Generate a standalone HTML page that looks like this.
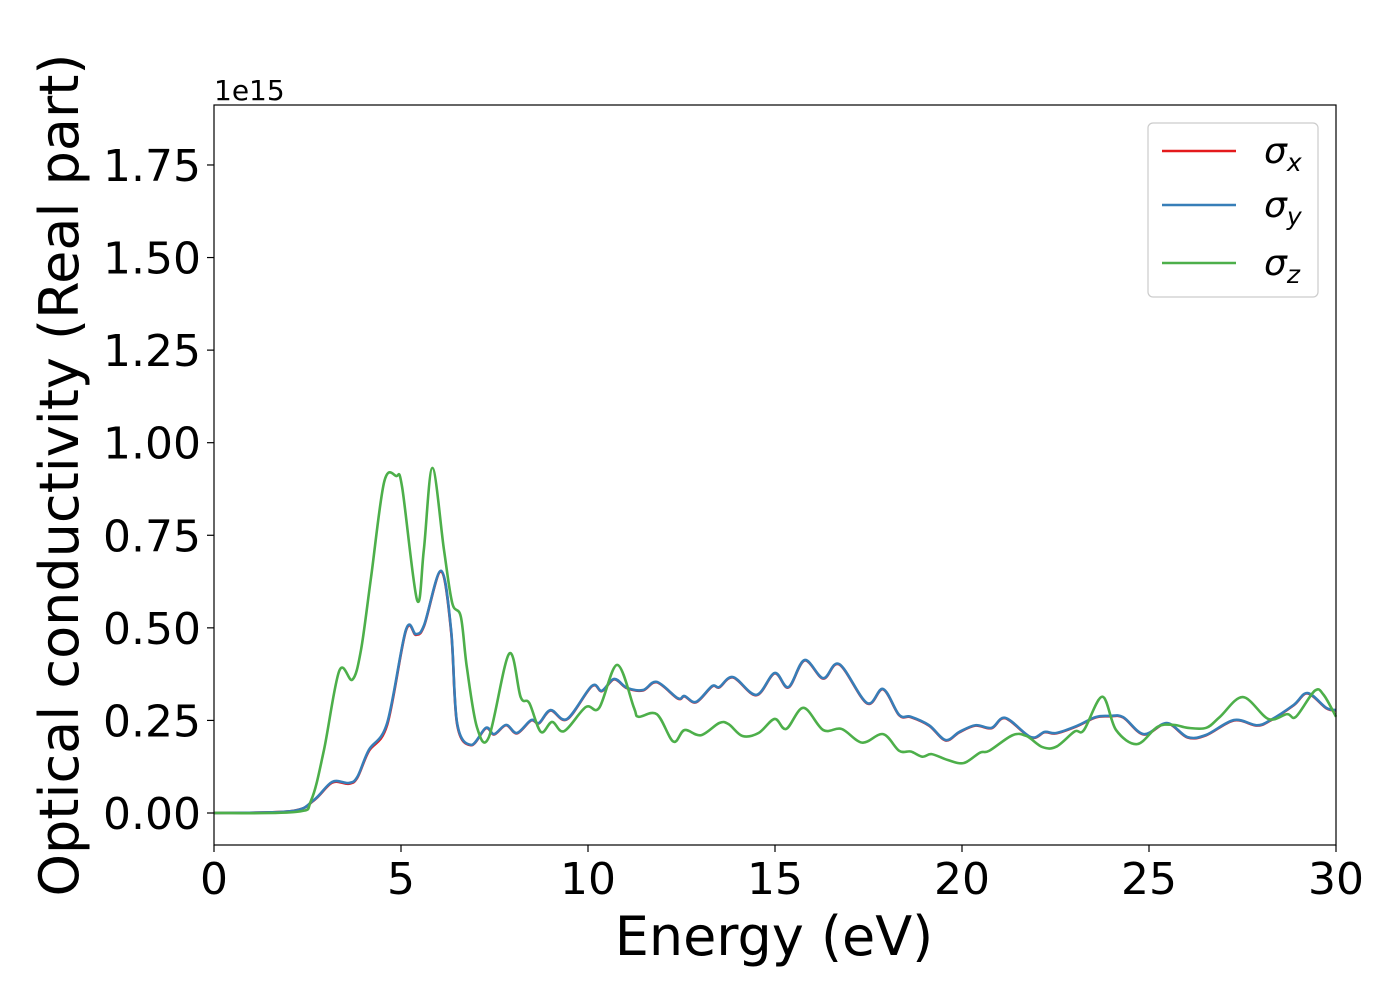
<!DOCTYPE html>
<html><head><meta charset="utf-8"><style>
body{margin:0;background:#fff}
svg text{font-family:"DejaVu Sans","Liberation Sans",sans-serif;fill:#000}
</style></head><body>
<svg width="1400" height="1000" viewBox="0 0 1400 1000" xmlns="http://www.w3.org/2000/svg">
<g id="ticks"></g>
<g id="series"></g>
<rect x="214" y="105" width="1122" height="740" fill="none" stroke="#000" stroke-width="1.2"/>
<text x="214" y="100" font-size="28">1e15</text>
<text x="774" y="955" font-size="54" text-anchor="middle">Energy (eV)</text>
<text transform="translate(78,475) rotate(-90)" font-size="54" text-anchor="middle">Optical conductivity (Real part)</text>
<g>
<rect x="1148" y="123" width="170" height="174" rx="5" fill="#fff" stroke="#ccc" stroke-width="1.2"/>
<line x1="1162" y1="151" x2="1236" y2="151" stroke="#e41a1c" stroke-width="2.6"/>
<line x1="1162" y1="205" x2="1236" y2="205" stroke="#377eb8" stroke-width="2.6"/>
<line x1="1162" y1="263" x2="1236" y2="263" stroke="#4daf4a" stroke-width="2.6"/>
<text x="1264" y="163" font-size="36" font-style="italic">σ<tspan font-size="25" dy="8">x</tspan></text>
<text x="1264" y="217" font-size="36" font-style="italic">σ<tspan font-size="25" dy="8">y</tspan></text>
<text x="1264" y="275" font-size="36" font-style="italic">σ<tspan font-size="25" dy="8">z</tspan></text>
</g>
</svg>
<script>
const xTicks=[0,5,10,15,20,25,30];
const yTicks=[0,0.25,0.5,0.75,1.0,1.25,1.5,1.75];
const yTickLabels=["0.00","0.25","0.50","0.75","1.00","1.25","1.50","1.75"];
const energyXY=[0,2.06,2.67,3.16,3.6,3.83,4.14,4.63,5.13,5.4,5.62,6.07,6.34,6.5,6.87,7.27,7.49,7.81,8.1,8.48,8.69,9.0,9.44,10.1,10.37,10.7,11.04,11.47,11.84,12.4,12.58,12.89,13.32,13.51,13.88,14.5,14.99,15.36,15.79,16.29,16.72,17.46,17.89,18.32,18.63,19.12,19.56,19.93,20.36,20.79,21.16,21.84,22.21,22.52,23.07,23.57,23.94,24.31,24.86,25.48,26.03,26.53,27.27,27.88,28.25,28.87,29.24,29.74,30.0];
const sigmaY=[0,0.005,0.035,0.084,0.081,0.097,0.17,0.243,0.494,0.483,0.508,0.654,0.494,0.243,0.184,0.23,0.213,0.238,0.216,0.251,0.243,0.278,0.254,0.343,0.33,0.362,0.338,0.332,0.354,0.31,0.316,0.30,0.343,0.34,0.367,0.319,0.378,0.34,0.413,0.364,0.402,0.297,0.335,0.265,0.26,0.237,0.197,0.219,0.237,0.23,0.257,0.205,0.219,0.216,0.235,0.259,0.262,0.259,0.213,0.243,0.205,0.211,0.251,0.237,0.251,0.292,0.324,0.284,0.278];
const sigmaX=[0,0.005,0.034,0.082,0.079,0.095,0.167,0.238,0.492,0.481,0.506,0.652,0.49,0.24,0.183,0.229,0.212,0.237,0.215,0.25,0.242,0.277,0.253,0.342,0.329,0.361,0.337,0.331,0.353,0.309,0.315,0.299,0.342,0.339,0.366,0.318,0.377,0.339,0.412,0.363,0.401,0.296,0.334,0.264,0.259,0.236,0.196,0.218,0.236,0.229,0.256,0.204,0.218,0.215,0.234,0.258,0.261,0.258,0.212,0.242,0.204,0.21,0.25,0.236,0.25,0.291,0.323,0.283,0.277];
const energyZ=[0,2.2,2.6,2.94,3.35,3.7,3.93,4.2,4.55,4.87,5.03,5.43,5.61,5.84,6.15,6.37,6.6,6.76,7.03,7.35,7.89,8.2,8.43,8.74,9.04,9.36,9.94,10.3,10.78,11.23,11.35,11.84,12.28,12.58,13.02,13.51,13.76,14.13,14.56,14.99,15.3,15.76,16.29,16.78,17.33,17.89,18.32,18.63,18.94,19.19,19.62,20.05,20.48,20.73,21.35,21.72,22.15,22.52,23.01,23.26,23.75,24.12,24.68,25.23,25.66,26.03,26.53,26.9,27.51,28.19,28.69,28.93,29.43,29.67,30.0];
const sigmaZ=[0,0.003,0.035,0.17,0.384,0.36,0.44,0.637,0.894,0.91,0.88,0.575,0.71,0.932,0.71,0.567,0.53,0.394,0.232,0.205,0.43,0.313,0.297,0.219,0.246,0.221,0.286,0.284,0.40,0.284,0.26,0.267,0.193,0.224,0.21,0.243,0.24,0.208,0.216,0.254,0.227,0.284,0.224,0.227,0.19,0.213,0.168,0.166,0.152,0.159,0.143,0.135,0.163,0.168,0.21,0.208,0.178,0.179,0.22,0.224,0.314,0.224,0.186,0.233,0.238,0.23,0.23,0.26,0.313,0.254,0.267,0.26,0.33,0.319,0.26];

const NS="http://www.w3.org/2000/svg";
const X0=214,X1=1336,YTOP=105,YBOT=845;
const xMin=0,xMax=30,yZeroPx=813,pxPerUnit=370.3;
function xs(e){return X0+(e-xMin)/(xMax-xMin)*(X1-X0);}
function ys(v){return yZeroPx-v*pxPerUnit;}
const tg=document.getElementById('ticks');
xTicks.forEach(t=>{
  const l=document.createElementNS(NS,'line');
  
  
  l.setAttribute('x1',xs(t));l.setAttribute('x2',xs(t));l.setAttribute('y1',YBOT);l.setAttribute('y2',YBOT+7);
  l.setAttribute('stroke','#000');l.setAttribute('stroke-width','1.2');tg.appendChild(l);
  const tx=document.createElementNS(NS,'text');
  
  
  tx.setAttribute('x',xs(t));tx.setAttribute('y',894);tx.setAttribute('font-size','44');tx.setAttribute('text-anchor','middle');
  tx.textContent=String(t);tg.appendChild(tx);
});
yTicks.forEach((t,i)=>{
  const l=document.createElementNS(NS,'line');
  
  
  l.setAttribute('x1',X0-7);l.setAttribute('x2',X0);l.setAttribute('y1',ys(t));l.setAttribute('y2',ys(t));
  l.setAttribute('stroke','#000');l.setAttribute('stroke-width','1.2');tg.appendChild(l);
  const tx=document.createElementNS(NS,'text');
  
  
  tx.setAttribute('x',X0-13);tx.setAttribute('y',ys(t)+16);tx.setAttribute('font-size','44');tx.setAttribute('text-anchor','end');
  tx.textContent=yTickLabels[i];tg.appendChild(tx);
});
function pathD(ex,vals){
  const p=ex.map((e,i)=>[xs(e),ys(vals[i])]);
  let d='M'+p[0][0]+','+p[0][1];
  for(let i=0;i<p.length-1;i++){
    const p0=p[Math.max(0,i-1)],p1=p[i],p2=p[i+1],p3=p[Math.min(p.length-1,i+2)];
    const c1=[p1[0]+(p2[0]-p0[0])/6,p1[1]+(p2[1]-p0[1])/6];
    const c2=[p2[0]-(p3[0]-p1[0])/6,p2[1]-(p3[1]-p1[1])/6];
    d+=' C'+c1[0]+','+c1[1]+' '+c2[0]+','+c2[1]+' '+p2[0]+','+p2[1];
  }
  return d;
}
const sg=document.getElementById('series');
const px=document.createElementNS(NS,'path');


px.setAttribute('d',pathD(energyXY,sigmaX));px.setAttribute('fill','none');px.setAttribute('stroke','#e41a1c');px.setAttribute('stroke-width','2.6');sg.appendChild(px);
const py=document.createElementNS(NS,'path');


py.setAttribute('d',pathD(energyXY,sigmaY));py.setAttribute('fill','none');py.setAttribute('stroke','#377eb8');py.setAttribute('stroke-width','2.6');sg.appendChild(py);
const pz=document.createElementNS(NS,'path');


pz.setAttribute('d',pathD(energyZ,sigmaZ));pz.setAttribute('fill','none');pz.setAttribute('stroke','#4daf4a');pz.setAttribute('stroke-width','2.6');sg.appendChild(pz);
</script>
</body></html>
